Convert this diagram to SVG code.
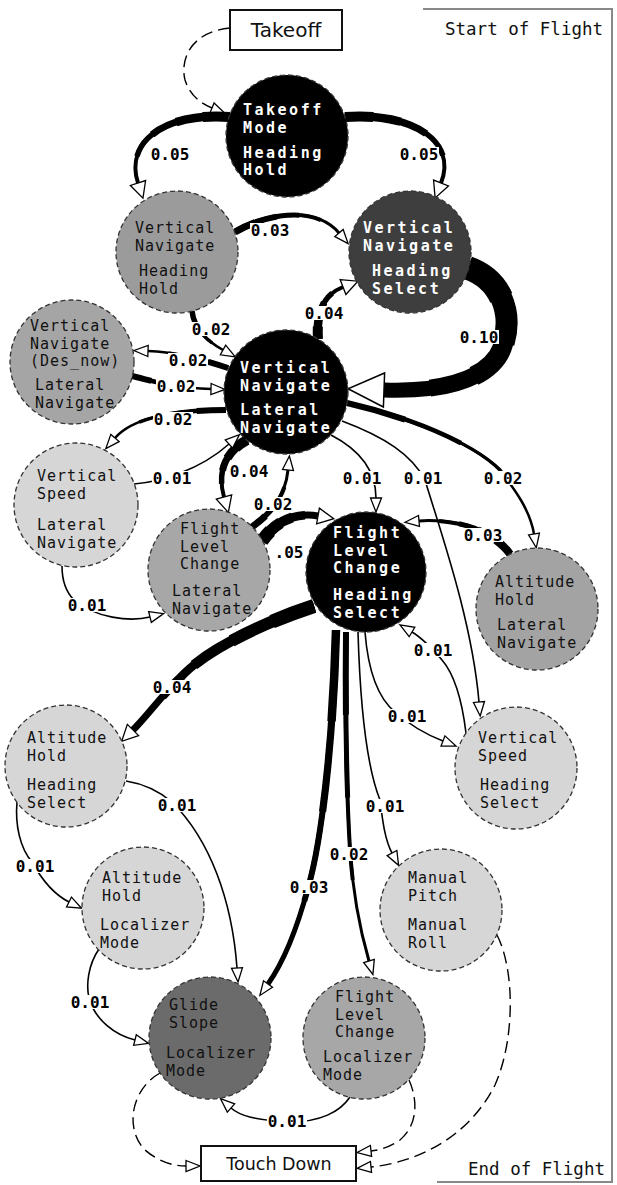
<svg xmlns="http://www.w3.org/2000/svg" xmlns:xlink="http://www.w3.org/1999/xlink" width="617" height="1185" viewBox="0 0 617 1185">
<style>
.frame{stroke:#888;stroke-width:2;fill:none}
.ft{font-family:"DejaVu Sans Mono","Liberation Mono",monospace;font-size:17.5px;fill:#111}
.bt{font-family:"DejaVu Sans","Liberation Sans",sans-serif;fill:#111;text-anchor:middle}
.box{fill:#fff;stroke:#111;stroke-width:2}
.node{stroke:#333;stroke-width:1.3;stroke-dasharray:5 3}
.nt{font-family:"DejaVu Sans Mono","Liberation Mono",monospace;font-size:15px;fill:#111;letter-spacing:1px}
.nw{font-family:"DejaVu Sans Mono","Liberation Mono",monospace;font-size:15px;font-weight:bold;fill:#fff;letter-spacing:2.5px}
.tp use{fill:none;stroke:#000;stroke-linecap:butt}
.thin{fill:none;stroke:#000;stroke-width:1.6;marker-end:url(#as)}
.dash{fill:none;stroke:#000;stroke-width:1.4;stroke-dasharray:12 6;marker-end:url(#as)}
.lb{font-family:"DejaVu Sans Mono","Liberation Mono",monospace;font-size:16px;font-weight:bold;fill:#000;text-anchor:middle}
.lbg{fill:#fff}
</style>
<defs>
<marker id="as" markerUnits="userSpaceOnUse" markerWidth="20" markerHeight="16" refX="1" refY="6.5" orient="auto" overflow="visible"><path d="M1,1 L15,6.5 L1,12 Z" fill="#fff" stroke="#000" stroke-width="1.3" stroke-dasharray="none"/></marker>
<marker id="am" markerUnits="userSpaceOnUse" markerWidth="22" markerHeight="20" refX="1" refY="9" orient="auto" overflow="visible"><path d="M1,1 L17,9 L1,17 Z" fill="#fff" stroke="#000" stroke-width="1.3"/></marker>
<marker id="ab" markerUnits="userSpaceOnUse" markerWidth="42" markerHeight="40" refX="1" refY="18" orient="auto" overflow="visible"><path d="M1,1 L37,18 L1,35 Z" fill="#fff" stroke="#000" stroke-width="1.5"/></marker>
<path id="t1" pathLength="100" d="M 230 117 C 168 112, 124 140, 138 183"/>
<path id="t2" pathLength="100" d="M 345 117 C 410 112, 458 140, 441 183"/>
<path id="t3" pathLength="100" d="M 235 232 C 265 214, 315 205, 339 233"/>
<path id="t4" pathLength="100" d="M 192 311 C 194 328, 205 340, 223 350"/>
<path id="t5" pathLength="100" d="M 318 339 C 316 310, 325 294, 343 287"/>
<path id="t6" pathLength="100" d="M 468 268 C 502 280, 514 315, 502 348 C 490 380, 440 392, 384 390"/>
<path id="t7" pathLength="100" d="M 228 368 C 205 360, 175 352, 148 351"/>
<path id="t8" pathLength="100" d="M 132 376 C 150 380, 170 388, 211 389"/>
<path id="t9" pathLength="100" d="M 226 410 C 185 410, 135 415, 115 438"/>
<path id="t10" pathLength="100" d="M 247 440 C 225 452, 217 472, 224 497"/>
<path id="t11" pathLength="100" d="M 252 527 C 268 515, 285 500, 288 470"/>
<path id="t12" pathLength="100" d="M 262 541 C 275 522, 295 512, 318 516"/>
<path id="t13" pathLength="100" d="M 347 403 C 400 415, 470 440, 500 470 C 515 490, 530 510, 534 534"/>
<path id="t14" pathLength="100" d="M 510 554 C 500 540, 480 528, 460 524 C 445 521, 430 520, 419 521"/>
<path id="t15" pathLength="100" d="M 346 632 C 345 720, 347 800, 350 850 C 353 895, 360 930, 369 961"/>
<path id="t16" pathLength="100" d="M 336 630 C 333 740, 322 840, 308 888 C 298 925, 285 960, 268 984"/>
<path id="t17" pathLength="100" d="M 314 606 C 265 622, 205 650, 180 678 C 162 695, 148 715, 133 730"/>
</defs>

<rect width="617" height="1185" fill="#fff"/>

<g id="frame">
<path class="frame" d="M423 9 H612 V1182 H437"/>
<text class="ft" x="445" y="35">Start of Flight</text>
<text class="ft" x="468" y="1175">End of Flight</text>
</g>

<g id="connectors">
<path class="dash" d="M 230 28 C 190 32, 180 60, 185 80 C 190 95, 200 103, 212 108"/>
<g class="tp"><use xlink:href="#t1" stroke-width="4" marker-end="url(#am)"/><use xlink:href="#t1" stroke-width="5.5" stroke-dasharray="80 200"/><use xlink:href="#t1" stroke-width="7" stroke-dasharray="60 200"/><use xlink:href="#t1" stroke-width="8.5" stroke-dasharray="40 200"/><use xlink:href="#t1" stroke-width="10" stroke-dasharray="20 200"/></g>
<g class="tp"><use xlink:href="#t2" stroke-width="4" marker-end="url(#am)"/><use xlink:href="#t2" stroke-width="5.5" stroke-dasharray="80 200"/><use xlink:href="#t2" stroke-width="7" stroke-dasharray="60 200"/><use xlink:href="#t2" stroke-width="8.5" stroke-dasharray="40 200"/><use xlink:href="#t2" stroke-width="10" stroke-dasharray="20 200"/></g>
<g class="tp"><use xlink:href="#t3" stroke-width="3" marker-end="url(#as)"/><use xlink:href="#t3" stroke-width="4" stroke-dasharray="80 200"/><use xlink:href="#t3" stroke-width="5" stroke-dasharray="60 200"/><use xlink:href="#t3" stroke-width="6" stroke-dasharray="40 200"/><use xlink:href="#t3" stroke-width="7" stroke-dasharray="20 200"/></g>
<g class="tp"><use xlink:href="#t4" stroke-width="2.5" marker-end="url(#as)"/><use xlink:href="#t4" stroke-width="3.4" stroke-dasharray="75 200"/><use xlink:href="#t4" stroke-width="4.3" stroke-dasharray="50 200"/><use xlink:href="#t4" stroke-width="5.5" stroke-dasharray="25 200"/></g>
<g class="tp"><use xlink:href="#t5" stroke-width="4" marker-end="url(#am)"/><use xlink:href="#t5" stroke-width="5.5" stroke-dasharray="80 200"/><use xlink:href="#t5" stroke-width="7" stroke-dasharray="60 200"/><use xlink:href="#t5" stroke-width="8.5" stroke-dasharray="40 200"/><use xlink:href="#t5" stroke-width="10" stroke-dasharray="20 200"/></g>
<g class="tp"><use xlink:href="#t6" stroke-width="15" marker-end="url(#ab)"/><use xlink:href="#t6" stroke-width="17" stroke-dasharray="80 200"/><use xlink:href="#t6" stroke-width="19.5" stroke-dasharray="60 200"/><use xlink:href="#t6" stroke-width="22" stroke-dasharray="40 200"/><use xlink:href="#t6" stroke-width="24" stroke-dasharray="20 200"/></g>
<g class="tp"><use xlink:href="#t7" stroke-width="2.5" marker-end="url(#as)"/><use xlink:href="#t7" stroke-width="3.5" stroke-dasharray="75 200"/><use xlink:href="#t7" stroke-width="4.6" stroke-dasharray="50 200"/><use xlink:href="#t7" stroke-width="6" stroke-dasharray="25 200"/></g>
<g class="tp"><use xlink:href="#t8" stroke-width="2.5" marker-end="url(#as)"/><use xlink:href="#t8" stroke-width="3.5" stroke-dasharray="75 200"/><use xlink:href="#t8" stroke-width="4.6" stroke-dasharray="50 200"/><use xlink:href="#t8" stroke-width="6" stroke-dasharray="25 200"/></g>
<g class="tp"><use xlink:href="#t9" stroke-width="2.5" marker-end="url(#as)"/><use xlink:href="#t9" stroke-width="3.5" stroke-dasharray="75 200"/><use xlink:href="#t9" stroke-width="4.6" stroke-dasharray="50 200"/><use xlink:href="#t9" stroke-width="6" stroke-dasharray="25 200"/></g>
<g class="tp"><use xlink:href="#t10" stroke-width="4" marker-end="url(#am)"/><use xlink:href="#t10" stroke-width="5.5" stroke-dasharray="80 200"/><use xlink:href="#t10" stroke-width="7" stroke-dasharray="60 200"/><use xlink:href="#t10" stroke-width="8.5" stroke-dasharray="40 200"/><use xlink:href="#t10" stroke-width="10" stroke-dasharray="20 200"/></g>
<g class="tp"><use xlink:href="#t11" stroke-width="3" marker-end="url(#as)"/><use xlink:href="#t11" stroke-width="4.2" stroke-dasharray="75 200"/><use xlink:href="#t11" stroke-width="5.5" stroke-dasharray="50 200"/><use xlink:href="#t11" stroke-width="7" stroke-dasharray="25 200"/></g>
<g class="tp"><use xlink:href="#t12" stroke-width="7" marker-end="url(#am)"/><use xlink:href="#t12" stroke-width="8.5" stroke-dasharray="80 200"/><use xlink:href="#t12" stroke-width="10" stroke-dasharray="60 200"/><use xlink:href="#t12" stroke-width="11.5" stroke-dasharray="40 200"/><use xlink:href="#t12" stroke-width="13" stroke-dasharray="20 200"/></g>
<g class="tp"><use xlink:href="#t13" stroke-width="2.5" marker-end="url(#as)"/><use xlink:href="#t13" stroke-width="3.5" stroke-dasharray="75 200"/><use xlink:href="#t13" stroke-width="4.6" stroke-dasharray="50 200"/><use xlink:href="#t13" stroke-width="6" stroke-dasharray="25 200"/></g>
<g class="tp"><use xlink:href="#t14" stroke-width="3" marker-end="url(#as)"/><use xlink:href="#t14" stroke-width="4" stroke-dasharray="80 200"/><use xlink:href="#t14" stroke-width="5.2" stroke-dasharray="60 200"/><use xlink:href="#t14" stroke-width="6.5" stroke-dasharray="40 200"/><use xlink:href="#t14" stroke-width="8" stroke-dasharray="20 200"/></g>
<g class="tp"><use xlink:href="#t15" stroke-width="3" marker-end="url(#as)"/><use xlink:href="#t15" stroke-width="4" stroke-dasharray="75 200"/><use xlink:href="#t15" stroke-width="5" stroke-dasharray="50 200"/><use xlink:href="#t15" stroke-width="6" stroke-dasharray="25 200"/></g>
<g class="tp"><use xlink:href="#t16" stroke-width="5" marker-end="url(#as)"/><use xlink:href="#t16" stroke-width="6" stroke-dasharray="75 200"/><use xlink:href="#t16" stroke-width="7.2" stroke-dasharray="50 200"/><use xlink:href="#t16" stroke-width="8.5" stroke-dasharray="25 200"/></g>
<g class="tp"><use xlink:href="#t17" stroke-width="7" marker-end="url(#am)"/><use xlink:href="#t17" stroke-width="8.7" stroke-dasharray="80 200"/><use xlink:href="#t17" stroke-width="10.5" stroke-dasharray="60 200"/><use xlink:href="#t17" stroke-width="12.2" stroke-dasharray="40 200"/><use xlink:href="#t17" stroke-width="14" stroke-dasharray="20 200"/></g>
<path class="thin" d="M 134 484 C 160 482, 200 470, 229 444"/>
<path class="thin" d="M 331 435 C 360 450, 376 470, 376 498"/>
<path class="thin" d="M 342 421 C 385 437, 412 455, 425 480 C 440 530, 472 620, 479 702"/>
<path class="thin" d="M 466 733 C 462 700, 455 675, 442 660 C 430 646, 422 638, 412 632"/>
<path class="thin" d="M 365 632 C 368 670, 378 698, 395 712 C 412 727, 430 736, 443 741"/>
<path class="thin" d="M 358 632 C 360 700, 366 765, 380 800 C 382 815, 384 838, 392 853"/>
<path class="thin" d="M 126 781 C 145 784, 160 792, 172 802 C 210 840, 232 900, 237 968"/>
<path class="thin" d="M 17 802 C 15 825, 20 848, 32 862 C 42 880, 55 895, 69 902"/>
<path class="thin" d="M 99 949 C 88 965, 86 985, 89 998 C 95 1020, 115 1035, 135 1040"/>
<path class="thin" d="M 350 1097 C 340 1112, 320 1122, 290 1122 C 255 1120, 240 1116, 231 1108"/>
<path class="thin" d="M 62 566 C 62 582, 66 592, 74 600 C 95 618, 130 622, 150 617"/>
<path class="dash" d="M 160 1073 C 130 1090, 125 1130, 145 1150 C 160 1163, 175 1166, 186 1166"/>
<path class="dash" d="M 409 1080 C 418 1100, 418 1125, 400 1140 C 390 1147, 380 1150, 371 1151"/>
<path class="dash" d="M 497 935 C 515 970, 515 1040, 495 1085 C 470 1135, 420 1162, 371 1167"/>
</g>

<g id="labels">
<rect class="lbg" x="150" y="147" width="40" height="14"/><text class="lb" x="170" y="160">0.05</text>
<rect class="lbg" x="399" y="147" width="40" height="14"/><text class="lb" x="419" y="160">0.05</text>
<rect class="lbg" x="250" y="223" width="40" height="14"/><text class="lb" x="270" y="236">0.03</text>
<rect class="lbg" x="191" y="322" width="40" height="14"/><text class="lb" x="211" y="335">0.02</text>
<rect class="lbg" x="304" y="306" width="40" height="14"/><text class="lb" x="324" y="319">0.04</text>
<rect class="lbg" x="459" y="330" width="40" height="14"/><text class="lb" x="479" y="343">0.10</text>
<rect class="lbg" x="168" y="353" width="40" height="14"/><text class="lb" x="188" y="366">0.02</text>
<rect class="lbg" x="156" y="379" width="40" height="14"/><text class="lb" x="176" y="392">0.02</text>
<rect class="lbg" x="153" y="412" width="40" height="14"/><text class="lb" x="173" y="425">0.02</text>
<rect class="lbg" x="152" y="471" width="40" height="14"/><text class="lb" x="172" y="484">0.01</text>
<rect class="lbg" x="229" y="464" width="40" height="14"/><text class="lb" x="249" y="477">0.04</text>
<rect class="lbg" x="253" y="497" width="40" height="14"/><text class="lb" x="273" y="510">0.02</text>
<rect class="lbg" x="342" y="471" width="40" height="14"/><text class="lb" x="362" y="484">0.01</text>
<rect class="lbg" x="403" y="471" width="40" height="14"/><text class="lb" x="423" y="484">0.01</text>
<rect class="lbg" x="483" y="471" width="40" height="14"/><text class="lb" x="503" y="484">0.02</text>
<text class="lb" x="289" y="558">.05</text>
<rect class="lbg" x="463" y="528" width="40" height="14"/><text class="lb" x="483" y="541">0.03</text>
<rect class="lbg" x="67" y="598" width="40" height="14"/><text class="lb" x="87" y="611">0.01</text>
<rect class="lbg" x="413" y="643" width="40" height="14"/><text class="lb" x="433" y="656">0.01</text>
<rect class="lbg" x="152" y="680" width="40" height="14"/><text class="lb" x="172" y="693">0.04</text>
<rect class="lbg" x="387" y="709" width="40" height="14"/><text class="lb" x="407" y="722">0.01</text>
<rect class="lbg" x="157" y="798" width="40" height="14"/><text class="lb" x="177" y="811">0.01</text>
<rect class="lbg" x="365" y="799" width="40" height="14"/><text class="lb" x="385" y="812">0.01</text>
<rect class="lbg" x="329" y="847" width="40" height="14"/><text class="lb" x="349" y="860">0.02</text>
<rect class="lbg" x="15" y="859" width="40" height="14"/><text class="lb" x="35" y="872">0.01</text>
<rect class="lbg" x="289" y="880" width="40" height="14"/><text class="lb" x="309" y="893">0.03</text>
<rect class="lbg" x="70" y="995" width="40" height="14"/><text class="lb" x="90" y="1008">0.01</text>
<rect class="lbg" x="267" y="1114" width="40" height="14"/><text class="lb" x="287" y="1127">0.01</text>
</g>

<g id="n-takeoff-box"><rect class="box" x="230" y="10" width="112" height="40"/><text class="bt" x="286" y="37" font-size="20">Takeoff</text></g>
<g id="n-touchdown-box"><rect class="box" x="201" y="1146" width="155" height="35"/><text class="bt" x="279" y="1170" font-size="17.5">Touch Down</text></g>

<g id="n-takeoff-mode"><circle class="node" cx="287" cy="136" r="61" fill="#000"/><text class="nw"><tspan x="243" y="115">Takeoff</tspan><tspan x="243" y="132.5">Mode</tspan><tspan x="243" y="157.5">Heading</tspan><tspan x="243" y="175">Hold</tspan></text></g>
<g id="n-vn-hh"><circle class="node" cx="177" cy="252" r="61" fill="#9b9b9b"/><text class="nt"><tspan x="135" y="233">Vertical</tspan><tspan x="135" y="250.5">Navigate</tspan><tspan x="139" y="276">Heading</tspan><tspan x="139" y="293.5">Hold</tspan></text></g>
<g id="n-vn-hs"><circle class="node" cx="410" cy="252" r="61" fill="#3e3e3e"/><text class="nw"><tspan x="363" y="233">Vertical</tspan><tspan x="363" y="250.5">Navigate</tspan><tspan x="372" y="276">Heading</tspan><tspan x="372" y="293.5">Select</tspan></text></g>
<g id="n-vn-desnow-ln"><circle class="node" cx="72" cy="362" r="62" fill="#a5a5a5"/><text class="nt"><tspan x="30" y="331">Vertical</tspan><tspan x="30" y="348.5">Navigate</tspan><tspan x="30" y="366">(Des_now)</tspan><tspan x="35" y="390">Lateral</tspan><tspan x="35" y="407.5">Navigate</tspan></text></g>
<g id="n-vn-ln"><circle class="node" cx="286" cy="392" r="62" fill="#000"/><text class="nw"><tspan x="240" y="373">Vertical</tspan><tspan x="240" y="390.5">Navigate</tspan><tspan x="240" y="415">Lateral</tspan><tspan x="240" y="432.5">Navigate</tspan></text></g>
<g id="n-vs-ln"><circle class="node" cx="76" cy="505" r="62" fill="#d6d6d6"/><text class="nt"><tspan x="37" y="481">Vertical</tspan><tspan x="37" y="498.5">Speed</tspan><tspan x="37" y="530">Lateral</tspan><tspan x="37" y="547.5">Navigate</tspan></text></g>
<g id="n-flc-ln"><circle class="node" cx="209" cy="570" r="61" fill="#a7a7a7"/><text class="nt"><tspan x="180" y="534">Flight</tspan><tspan x="180" y="551.5">Level</tspan><tspan x="180" y="569">Change</tspan><tspan x="172" y="596">Lateral</tspan><tspan x="172" y="613.5">Navigate</tspan></text></g>
<g id="n-flc-hs"><circle class="node" cx="366" cy="572" r="60" fill="#000"/><text class="nw"><tspan x="333" y="538">Flight</tspan><tspan x="333" y="555.5">Level</tspan><tspan x="333" y="573">Change</tspan><tspan x="333" y="600">Heading</tspan><tspan x="333" y="617.5">Select</tspan></text></g>
<g id="n-ah-ln"><circle class="node" cx="537" cy="609" r="61" fill="#a3a3a3"/><text class="nt"><tspan x="495" y="587">Altitude</tspan><tspan x="495" y="604.5">Hold</tspan><tspan x="497" y="630">Lateral</tspan><tspan x="497" y="647.5">Navigate</tspan></text></g>
<g id="n-ah-hs"><circle class="node" cx="66" cy="766" r="61" fill="#d6d6d6"/><text class="nt"><tspan x="27" y="743">Altitude</tspan><tspan x="27" y="760.5">Hold</tspan><tspan x="27" y="790">Heading</tspan><tspan x="27" y="807.5">Select</tspan></text></g>
<g id="n-vs-hs"><circle class="node" cx="516" cy="768" r="61" fill="#d6d6d6"/><text class="nt"><tspan x="478" y="743">Vertical</tspan><tspan x="478" y="760.5">Speed</tspan><tspan x="480" y="790">Heading</tspan><tspan x="480" y="807.5">Select</tspan></text></g>
<g id="n-ah-lm"><circle class="node" cx="143" cy="908" r="61" fill="#d6d6d6"/><text class="nt"><tspan x="102" y="883">Altitude</tspan><tspan x="102" y="900.5">Hold</tspan><tspan x="100" y="930">Localizer</tspan><tspan x="100" y="947.5">Mode</tspan></text></g>
<g id="n-mp-mr"><circle class="node" cx="441" cy="910" r="61" fill="#d6d6d6"/><text class="nt"><tspan x="408" y="883">Manual</tspan><tspan x="408" y="900.5">Pitch</tspan><tspan x="408" y="930">Manual</tspan><tspan x="408" y="947.5">Roll</tspan></text></g>
<g id="n-gs-lm"><circle class="node" cx="210" cy="1038" r="61" fill="#6b6b6b"/><text class="nt"><tspan x="169" y="1010">Glide</tspan><tspan x="169" y="1027.5">Slope</tspan><tspan x="166" y="1058">Localizer</tspan><tspan x="166" y="1075.5">Mode</tspan></text></g>
<g id="n-flc-lm"><circle class="node" cx="364" cy="1038" r="61" fill="#a7a7a7"/><text class="nt"><tspan x="335" y="1002">Flight</tspan><tspan x="335" y="1019.5">Level</tspan><tspan x="335" y="1037">Change</tspan><tspan x="323" y="1062">Localizer</tspan><tspan x="323" y="1079.5">Mode</tspan></text></g>
</svg>
